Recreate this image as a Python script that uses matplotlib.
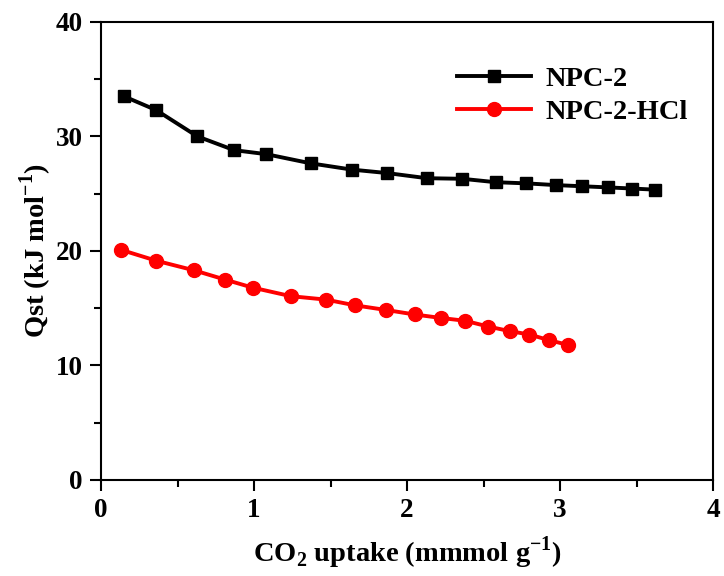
import matplotlib
matplotlib.use("Agg")
import matplotlib.pyplot as plt
from matplotlib.ticker import MultipleLocator

plt.rcParams['font.family'] = 'Liberation Serif'
plt.rcParams['font.weight'] = 'bold'
plt.rcParams['mathtext.fontset'] = 'custom'
plt.rcParams['mathtext.rm'] = 'Liberation Serif:bold'
plt.rcParams['mathtext.bf'] = 'Liberation Serif:bold'

npc2_x = [0.15, 0.36, 0.63, 0.87, 1.08, 1.37, 1.64, 1.87, 2.13, 2.36,
          2.58, 2.78, 2.97, 3.14, 3.31, 3.47, 3.62]
npc2_y = [33.5, 32.3, 30.0, 28.8, 28.45, 27.65, 27.1, 26.8, 26.35, 26.3,
          26.0, 25.9, 25.75, 25.65, 25.55, 25.45, 25.35]

hcl_x = [0.13, 0.36, 0.61, 0.81, 0.99, 1.24, 1.47, 1.66, 1.86, 2.05,
         2.22, 2.38, 2.53, 2.67, 2.80, 2.93, 3.05]
hcl_y = [20.1, 19.15, 18.3, 17.5, 16.8, 16.05, 15.75, 15.25, 14.85, 14.45,
         14.15, 13.9, 13.4, 13.0, 12.7, 12.2, 11.8]

fig = plt.figure(figsize=(7.24, 5.76), dpi=100)
ax = fig.add_axes([0.1395, 0.1667, 0.8455, 0.7953])

ax.plot(npc2_x, npc2_y, color='black', lw=2.8, marker='s', ms=9, label='NPC-2')
ax.plot(hcl_x, hcl_y, color='red', lw=2.8, marker='o', ms=10, label='NPC-2-HCl')

ax.set_xlim(0, 4)
ax.set_ylim(0, 40)
ax.xaxis.set_major_locator(MultipleLocator(1))
ax.xaxis.set_minor_locator(MultipleLocator(0.5))
ax.yaxis.set_major_locator(MultipleLocator(10))
ax.yaxis.set_minor_locator(MultipleLocator(5))
ax.tick_params(which='major', direction='out', length=8, width=1.5, labelsize=19.5, pad=5)
ax.tick_params(which='minor', direction='out', length=5, width=1.5)
for s in ax.spines.values():
    s.set_linewidth(1.5)

ax.set_xlabel('CO$_2$ uptake (mmmol g$^{-1}$)', fontsize=20.5, fontweight='bold', labelpad=8)
ax.set_ylabel('Qst (kJ mol$^{-1}$)', fontsize=20.5, fontweight='bold', labelpad=1)

ax.legend(loc='upper right', frameon=False, fontsize=20.5, handlelength=2.6,
          handletextpad=0.5, bbox_to_anchor=(1.0, 0.96), borderaxespad=0.5,
          labelspacing=0.25)

fig.savefig('out.png', dpi=100)
